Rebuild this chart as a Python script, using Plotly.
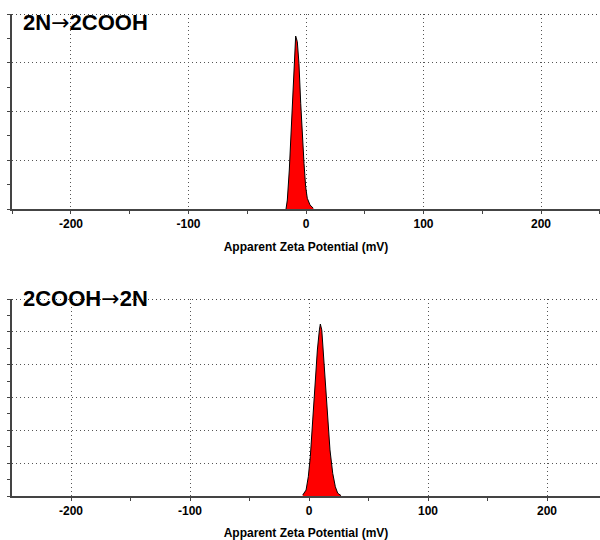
import plotly.graph_objects as go

# Top panel: 2N→2COOH (apparent zeta potential distribution, relative counts)
zeta_top = [-17.0, -15.9, -14.2, -12.5, -10.8, -9.6, -8.8, -7.4, -6.0, -4.5,
            -3.1, -1.7, -0.3, 1.1, 3.4, 6.2]
counts_top = [0.0, 0.046, 0.20, 0.405, 0.627, 0.798, 0.887, 0.858, 0.747, 0.542,
              0.371, 0.234, 0.114, 0.055, 0.021, 0.004]

# Bottom panel: 2COOH→2N
zeta_bot = [-5.3, -2.5, -0.6, 1.1, 3.1, 5.0, 7.0, 8.7, 9.5, 10.7, 12.0, 13.7,
            15.7, 17.6, 19.9, 22.1, 24.1, 26.9]
counts_bot = [0.005, 0.03, 0.098, 0.20, 0.386, 0.572, 0.741, 0.843, 0.873, 0.843,
              0.724, 0.555, 0.386, 0.234, 0.115, 0.047, 0.014, 0.002]

title_parts = [("2N", "2COOH"), ("2COOH", "2N")]
x_ticks = [-200, -100, 0, 100, 200]
x_title = "Apparent Zeta Potential (mV)"

fig = go.Figure()
fig.add_trace(go.Scatter(x=zeta_top, y=counts_top, mode="lines", fill="tozeroy",
                         fillcolor="#ff0000", line=dict(color="#000000", width=1),
                         xaxis="x", yaxis="y", showlegend=False))
fig.add_trace(go.Scatter(x=zeta_bot, y=counts_bot, mode="lines", fill="tozeroy",
                         fillcolor="#ff0000", line=dict(color="#000000", width=1),
                         xaxis="x2", yaxis="y2", showlegend=False))

font_fam = "Liberation Sans, Arial, sans-serif"
grid_col = "#555555"
axis_col = "#444444"
grid_dash = "1px,3px"

def xaxis(domain_y_anchor, rng):
    return dict(range=rng, domain=[0.02, 1.0], anchor=domain_y_anchor,
                tickmode="array", tickvals=x_ticks, ticktext=[str(v) for v in x_ticks],
                tickfont=dict(family=font_fam, size=12, color="#000000", weight="bold"),
                ticks="outside", ticklen=3, tickcolor=axis_col,
                minor=dict(dtick=50, tick0=0, ticks="outside", ticklen=3,
                           tickcolor=axis_col, showgrid=False),
                showgrid=True, gridcolor=grid_col, griddash=grid_dash, gridwidth=1,
                zeroline=False, showline=True, linecolor=axis_col, linewidth=1.5,
                title=dict(text=x_title, standoff=12,
                           font=dict(family=font_fam, size=12, color="#000000", weight="bold")),
                fixedrange=True)

def yaxis(bottom_px, top_px, dtick, xanchor):
    return dict(range=[0, 1], domain=[1 - bottom_px / 540, 1 - top_px / 540],
                anchor=xanchor,
                tick0=0, dtick=dtick, showticklabels=False,
                ticks="outside", ticklen=3, tickcolor=axis_col,
                minor=dict(dtick=dtick / 2, tick0=0, ticks="outside", ticklen=3,
                           tickcolor=axis_col, showgrid=False),
                showgrid=True, gridcolor=grid_col, griddash=grid_dash, gridwidth=1,
                zeroline=False, showline=True, linecolor=axis_col, linewidth=1.5,
                fixedrange=True)

def title_text(a, b):
    return (a + "<span style='font-family:DejaVu Sans;font-weight:normal'>\u2192</span>" + b)

def top_border(top_px):
    y = 1 - (top_px + 0.5) / 540
    return dict(type="line", xref="paper", yref="paper", x0=0.02, x1=1.0, y0=y, y1=y,
                line=dict(color="#444444", width=1.2, dash=grid_dash), layer="above")

fig.update_layout(
    width=600, height=540,
    margin=dict(l=0, r=0, t=0, b=0),
    paper_bgcolor="white", plot_bgcolor="white",
    xaxis=xaxis("y", [-250.2, 250.2]),
    yaxis=yaxis(209, 14, 0.25, "x"),
    xaxis2=xaxis("y2", [-249.6, 244.5]),
    yaxis2=yaxis(496, 299, 1 / 6, "x2"),
    shapes=[top_border(14), top_border(299)],
    annotations=[
        dict(text=title_text(*title_parts[0]), x=21 / 600, y=1 - 22 / 540,
             xref="paper", yref="paper", xanchor="left", yanchor="middle", showarrow=False,
             font=dict(family=font_fam, size=22, color="#000000", weight="bold")),
        dict(text=title_text(*title_parts[1]), x=21 / 600, y=1 - 298 / 540,
             xref="paper", yref="paper", xanchor="left", yanchor="middle", showarrow=False,
             font=dict(family=font_fam, size=22, color="#000000", weight="bold")),
    ],
)

fig.write_html("out.html")
